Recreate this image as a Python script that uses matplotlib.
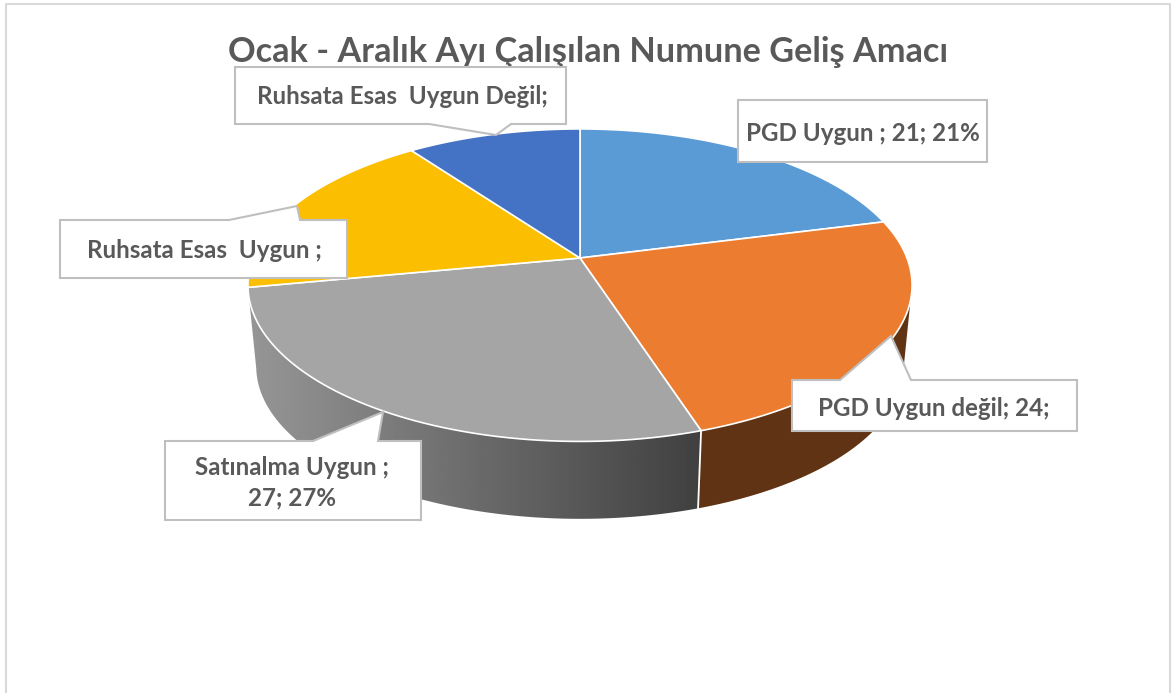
import matplotlib
matplotlib.use("Agg")
import matplotlib.pyplot as plt
from matplotlib.patches import Polygon
import numpy as np

# ---------------------------------------------------------
# DATA
# ---------------------------------------------------------
title = "Ocak - Aralık Ayı Çalışılan Numune Geliş Amacı"
categories = ["PGD Uygun ", "PGD Uygun değil", "Satınalma Uygun ", "Ruhsata Esas  Uygun ", "Ruhsata Esas  Uygun Değil"]
values = [21, 24, 27, 18, 10]
label_texts = ["PGD Uygun ; 21; 21%", "PGD Uygun değil; 24;", "Satınalma Uygun ;\n27; 27%",
               "Ruhsata Esas  Uygun ;", "Ruhsata Esas  Uygun Değil;"]

# ---------------------------------------------------------
# CONFIG
# ---------------------------------------------------------
top_colors = ["#5B9BD5", "#EB7C30", "#A5A5A5", "#FBBE00", "#4472C4"]
orange_side = "#5F3314"
text_color = "#595959"
line_color = "#BFBFBF"
frame_color = "#D9D9D9"
font = "Lato"

# projection of the tilted pie, in pixels
cx, cy = 580, 258
rx, ry, persp = 327, 151.5, 0.174
bottom_scale, bottom_cy = 0.975, 340

# label boxes: x0, y0, x1, y1, text x, text y, pointer (start x, tip x, tip y, end x), pointer edge y
boxes = [
    (738, 100, 987, 162, 863, 133.5, None, None),
    (792, 380, 1077, 431, 934, 409, (840, 891, 336, 911), 380),
    (165, 441, 421, 520, 292, 483, (313, 383, 412, 378), 441),
    (60, 220, 347, 278, 204, 251, (229, 297, 206, 300), 220),
    (235, 67, 566, 124, 402.5, 97, (511, 496, 135, 429), 124),
]


# ---------------------------------------------------------
# HELPERS
# ---------------------------------------------------------
def project(angles, scale=1.0, y0=cy):
    # angle in degrees, clockwise from the back of the pie
    a = np.radians(angles)
    u, v = np.sin(a), np.cos(a)
    d = 1 + persp * v
    return np.column_stack([cx + scale * rx * u / d, y0 - scale * ry * v / d])


def callout(ax, box):
    x0, y0, x1, y1, tx, ty, ptr, edge = box
    if ptr is None:
        pts = [(x0, y0), (x1, y0), (x1, y1), (x0, y1)]
    elif edge == y0:
        pts = [(x0, y0), (ptr[0], y0), (ptr[1], ptr[2]), (ptr[3], y0), (x1, y0), (x1, y1), (x0, y1)]
    else:
        pts = [(x0, y0), (x1, y0), (x1, y1), (ptr[0], y1), (ptr[1], ptr[2]), (ptr[3], y1), (x0, y1)]
    ax.add_patch(Polygon(pts, closed=True, fc="white", ec=line_color, lw=1.5, zorder=5, joinstyle="miter"))


# ---------------------------------------------------------
# PLOT
# ---------------------------------------------------------
fig = plt.figure(figsize=(11.75, 6.93), dpi=100)
ax = fig.add_axes([0, 0, 1, 1])

edges = np.concatenate([[0], np.cumsum(values)]) * 360 / np.sum(values)
silhouette = np.degrees(np.arccos(-persp))

# side walls of the front slices
for i in [1, 2]:
    a0, a1 = max(edges[i], silhouette), min(edges[i + 1], 360 - silhouette)
    ang = np.linspace(a0, a1, 120)
    top_arc = project(ang)
    bottom_arc = project(ang, bottom_scale, bottom_cy)
    pts = np.vstack([top_arc, bottom_arc[::-1]])
    if i == 1:
        ax.add_patch(Polygon(pts, closed=True, fc=orange_side, ec="none", zorder=1))
    else:
        wall = Polygon(pts, closed=True, fc="none", ec="none", zorder=1)
        ax.add_patch(wall)
        shade = np.linspace(0x96, 0x40, 256).reshape(1, -1) / 255
        im = ax.imshow(shade, cmap="gray", vmin=0, vmax=1, aspect="auto",
                       extent=(pts[:, 0].min(), pts[:, 0].max(), pts[:, 1].max(), pts[:, 1].min()), zorder=1)
        im.set_clip_path(wall)
        # white seam between the two walls
        ax.plot([top_arc[0, 0], bottom_arc[0, 0]], [top_arc[0, 1], bottom_arc[0, 1]], color="white", lw=1.3, zorder=2)

# top faces
for i, color in enumerate(top_colors):
    ang = np.linspace(edges[i], edges[i + 1], 200)
    pts = np.vstack([[(cx, cy)], project(ang)])
    ax.add_patch(Polygon(pts, closed=True, fc=color, ec="white", lw=1.2, zorder=3, joinstyle="round"))

ax.text(588, 52, title, ha="center", va="center", fontsize=24.7, fontweight="bold", color=text_color,
        family=font, zorder=4)

for box, text in zip(boxes, label_texts):
    callout(ax, box)
    ax.text(box[4], box[5], text, ha="center", va="center", fontsize=17.4, fontweight="bold",
            color=text_color, family=font, linespacing=1.4, zorder=6)

# chart frame, open at the bottom
ax.plot([5.5, 5.5, 1170, 1170], [693, 3.5, 3.5, 693], color=frame_color, lw=1.5, zorder=0)

ax.set_xlim(0, 1175)
ax.set_ylim(693, 0)
ax.axis("off")

fig.savefig("out.png", dpi=100, facecolor="white")
